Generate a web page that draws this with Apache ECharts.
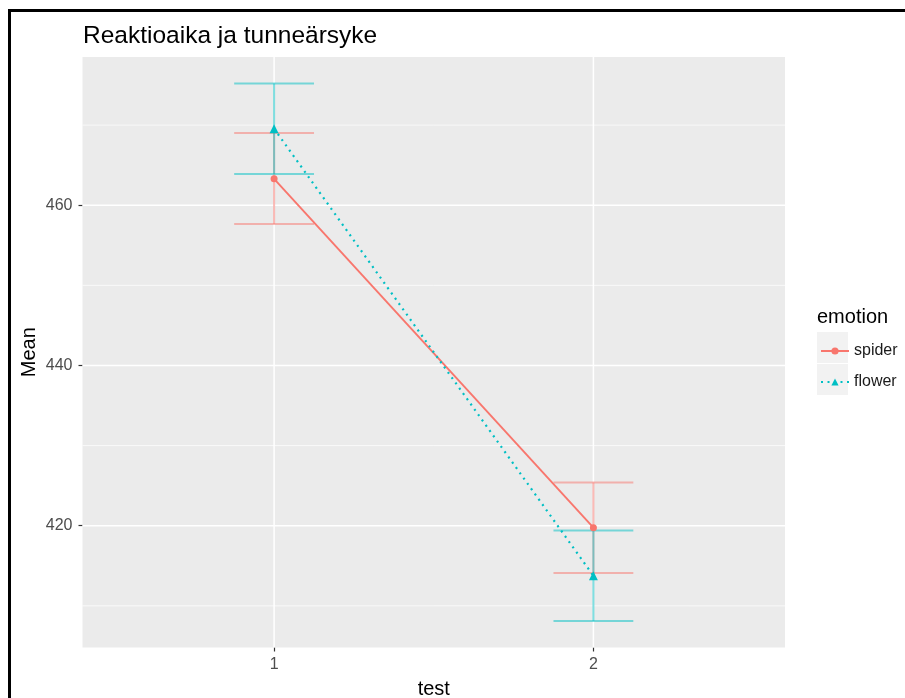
<!DOCTYPE html>
<html>
<head>
<meta charset="utf-8">
<script src="https://cdn.jsdelivr.net/npm/echarts@6/dist/echarts.min.js"></script>
<style>
  html, body { margin: 0; padding: 0; background: #fff; }
  #chart { width: 905px; height: 698px; }
</style>
</head>
<body>
<div id="chart"></div>
<script>
// data
const tests = [1, 2]
const spiderMean = [463.3, 419.75]
const spiderLow = [457.65, 414.1]
const spiderHigh = [469.0, 425.4]
const flowerMean = [469.55, 413.75]
const flowerLow = [463.9, 408.1]
const flowerHigh = [475.2, 419.4]
const yTicks = [420, 440, 460]
const yMinor = [410, 430, 450, 470]
const xTicks = [1, 2]

const FONT = 'Liberation Sans, Arial, Helvetica, sans-serif'
const RED = '#F8766D'
const TEAL = '#00BFC4'

const chart = echarts.init(document.getElementById('chart'))

function errorBarSeries (name, color, low, high) {
  return {
    name: name,
    type: 'custom',
    z: 2,
    silent: true,
    data: tests.map((t, i) => [t, low[i], high[i]]),
    renderItem: (params, api) => {
      const x = api.value(0)
      const lo = api.coord([x, api.value(1)])
      const hi = api.coord([x, api.value(2)])
      const half = api.size([0.125, 0])[0]
      const style = { stroke: color, lineWidth: 2, opacity: 0.5 }
      return {
        type: 'group',
        children: [
          { type: 'line', shape: { x1: lo[0], y1: lo[1], x2: hi[0], y2: hi[1] }, style: style },
          { type: 'line', shape: { x1: lo[0] - half, y1: lo[1], x2: lo[0] + half, y2: lo[1] }, style: style },
          { type: 'line', shape: { x1: hi[0] - half, y1: hi[1], x2: hi[0] + half, y2: hi[1] }, style: style }
        ]
      }
    }
  }
}

// panel grid lines (ggplot style)
const gridLines = {
  name: 'gridlines',
  type: 'custom',
  z: 1,
  silent: true,
  data: yTicks.map(v => ['h', v, 1.5])
    .concat(yMinor.map(v => ['h', v, 0.7]))
    .concat(xTicks.map(v => ['v', v, 1.5])),
  dimensions: ['kind', 'value', 'width'],
  encode: { x: -1, y: -1 },
  renderItem: (params, api) => {
    const cs = params.coordSys
    const kind = api.value(0)
    const v = api.value(1)
    const w = api.value(2)
    let shape
    if (kind === 'h') {
      const y = api.coord([1.5, v])[1]
      shape = { x1: cs.x, y1: y, x2: cs.x + cs.width, y2: y }
    } else {
      const x = api.coord([v, 440])[0]
      shape = { x1: x, y1: cs.y, x2: x, y2: cs.y + cs.height }
    }
    return { type: 'line', shape: shape, style: { stroke: '#fff', lineWidth: w } }
  }
}

const option = {
  animation: false,
  textStyle: { fontFamily: FONT },
  title: {
    text: 'Reaktioaika ja tunneärsyke',
    left: 78,
    top: 19,
    textStyle: { fontSize: 24.5, fontWeight: 'normal', color: '#000', fontFamily: FONT }
  },
  grid: {
    left: 82.5,
    top: 57,
    right: 120,
    bottom: 50.5,
    show: true,
    backgroundColor: '#EBEBEB',
    borderWidth: 0,
    outerBoundsMode: 'none'
  },
  legend: {
    orient: 'vertical',
    left: 820,
    top: 343,
    padding: 0,
    itemWidth: 28,
    itemHeight: 9,
    itemGap: 15,
    data: ['spider', 'flower'],
    textStyle: { fontSize: 16, color: '#1A1A1A', fontFamily: FONT }
  },
  xAxis: {
    type: 'value',
    min: 0.4,
    max: 2.6,
    name: 'test',
    nameLocation: 'middle',
    nameGap: 32,
    nameMoveOverlap: false,
    nameTextStyle: { fontSize: 20, color: '#000', fontFamily: FONT },
    axisLine: { show: false },
    splitLine: { show: false },
    axisTick: { show: true, length: 4, customValues: xTicks, lineStyle: { color: '#333', width: 1.2 } },
    axisLabel: { customValues: xTicks, margin: 9, fontSize: 16, color: '#4D4D4D' }
  },
  yAxis: {
    type: 'value',
    min: 404.8,
    max: 478.5,
    name: 'Mean',
    nameLocation: 'middle',
    nameRotate: 90,
    nameGap: 43,
    nameMoveOverlap: false,
    nameTextStyle: { fontSize: 20, color: '#000', fontFamily: FONT },
    axisLine: { show: false },
    splitLine: { show: false },
    axisTick: { show: true, length: 4, customValues: yTicks, lineStyle: { color: '#333', width: 1.2 } },
    axisLabel: { customValues: yTicks, margin: 10, fontSize: 16, color: '#4D4D4D' }
  },
  graphic: [
    // black frame of the screenshot
    { type: 'line', shape: { x1: 8, y1: 10.5, x2: 905, y2: 10.5 }, style: { stroke: '#000', lineWidth: 3 } },
    { type: 'line', shape: { x1: 9.5, y1: 9, x2: 9.5, y2: 698 }, style: { stroke: '#000', lineWidth: 3 } },
    // legend title and key backgrounds
    { type: 'text', left: 817, top: 307, style: { text: 'emotion', fontSize: 20, fill: '#000', fontFamily: FONT } },
    { type: 'rect', z: -1, shape: { x: 817, y: 332, width: 31, height: 31 }, style: { fill: '#F2F2F2' } },
    { type: 'rect', z: -1, shape: { x: 817, y: 364, width: 31, height: 31 }, style: { fill: '#F2F2F2' } }
  ],
  series: [
    gridLines,
    errorBarSeries('spider-err', RED, spiderLow, spiderHigh),
    errorBarSeries('flower-err', TEAL, flowerLow, flowerHigh),
    {
      name: 'spider',
      type: 'line',
      z: 3,
      data: tests.map((t, i) => [t, spiderMean[i]]),
      symbol: 'circle',
      symbolSize: 7,
      itemStyle: { color: RED },
      lineStyle: { color: RED, width: 1.9 }
    },
    {
      name: 'flower',
      type: 'line',
      z: 3,
      data: tests.map((t, i) => [t, flowerMean[i]]),
      symbol: 'triangle',
      symbolSize: 9,
      itemStyle: { color: TEAL },
      lineStyle: { color: TEAL, width: 2.2, type: [2, 4.5] }
    }
  ]
}

chart.setOption(option)
</script>
</body>
</html>
